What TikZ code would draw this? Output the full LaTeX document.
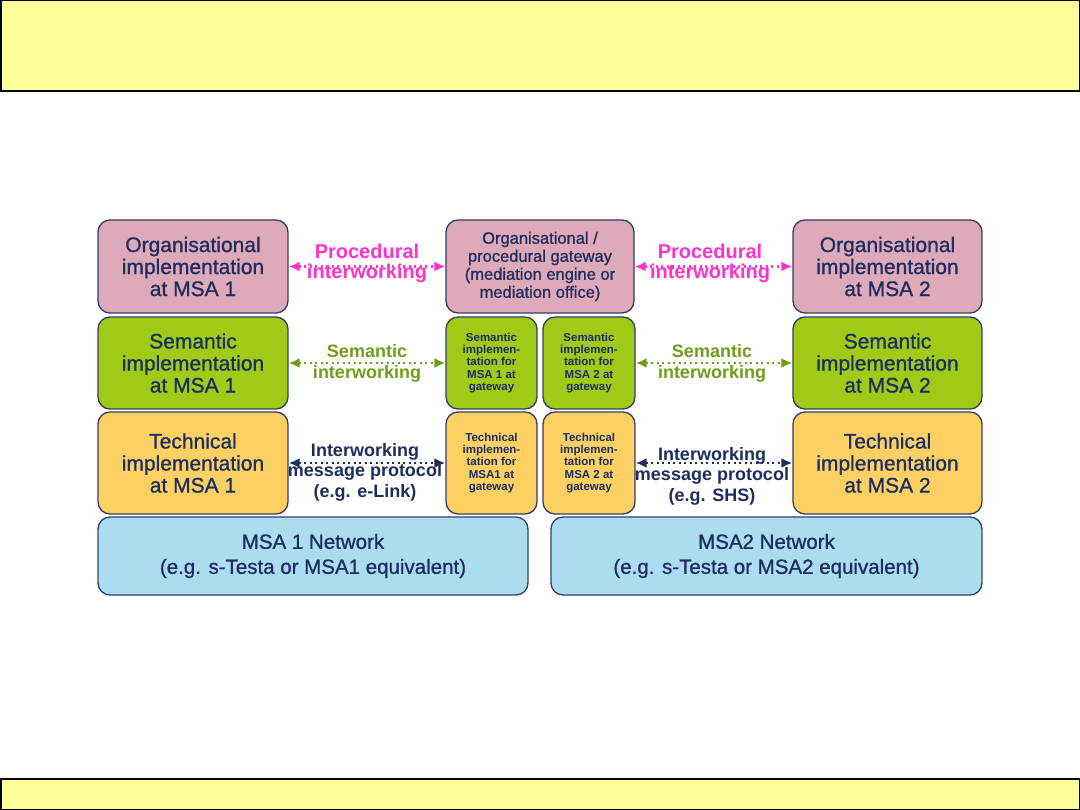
\documentclass[tikz,border=0pt]{standalone}
\usepackage{fontspec}
\setmainfont{Liberation Sans}
\newfontfamily\heavyfont[FakeBold=0.9]{Liberation Sans}
\usetikzlibrary{arrows.meta}
\definecolor{barfill}{RGB}{255,255,153}
\definecolor{pinkfill}{RGB}{222,169,185}
\definecolor{greenfill}{RGB}{159,202,22}
\definecolor{orangefill}{RGB}{253,208,99}
\definecolor{bluefill}{RGB}{171,220,240}
\definecolor{navy}{RGB}{30,45,95}
\definecolor{edge}{RGB}{50,62,105}
\definecolor{magentalbl}{RGB}{255,51,204}
\definecolor{greenlbl}{RGB}{108,158,28}
\tikzset{
  layerbox/.style={draw=edge, line width=1.3pt, rounded corners=12pt, inner sep=0pt,
    text=navy, align=center, font=\heavyfont\fontsize{21}{22}\selectfont},
  orgbox/.style={layerbox, fill=pinkfill},
  sembox/.style={layerbox, fill=greenfill},
  techbox/.style={layerbox, fill=orangefill},
  netbox/.style={layerbox, fill=bluefill, font=\heavyfont\fontsize{20.5}{25}\selectfont},
  gwsmall/.style={font=\bfseries\fontsize{11.5}{12.4}\selectfont},
  link/.style={line width=2.4pt, dash pattern=on 2.2pt off 3.3pt,
    {Latex[length=11pt,width=10pt]}-{Latex[length=11pt,width=10pt]}},
  lbl/.style={align=center, inner sep=0pt, font=\bfseries\fontsize{18}{20.5}\selectfont},
  bar/.style={draw=black, line width=1.5pt, fill=barfill}
}
\begin{document}
\begin{tikzpicture}[x=1pt,y=-1pt]
\useasboundingbox (0,0) rectangle (1080,810);
% header and footer bars
\path[bar] (0.75,0.75) rectangle (1079.25,91);
\path[bar] (0.75,779) rectangle (1079.25,809.25);

% left column (MSA 1)
\node[orgbox, minimum width=190pt, minimum height=93pt] (o1) at (193,266.5)
  {Organisational\\implementation\\at MSA 1};
\node[sembox, minimum width=190pt, minimum height=92pt] (s1) at (193,363)
  {Semantic\\implementation\\at MSA 1};
\node[techbox, minimum width=190pt, minimum height=102pt] (t1) at (193,463)
  {Technical\\implementation\\at MSA 1};

% gateway column
\node[orgbox, minimum width=188pt, minimum height=93pt, font=\heavyfont\fontsize{16.5}{18}\selectfont] (og) at (540,266.5)
  {Organisational /\\procedural gateway\\(mediation engine or\\mediation office)};
\node[sembox, gwsmall, minimum width=91pt, minimum height=92pt] (sg1) at (491.5,363)
  {Semantic\\implemen-\\tation for\\MSA 1 at\\gateway};
\node[sembox, gwsmall, minimum width=92pt, minimum height=92pt] (sg2) at (589,363)
  {Semantic\\implemen-\\tation for\\MSA 2 at\\gateway};
\node[techbox, gwsmall, minimum width=91pt, minimum height=102pt] (tg1) at (491.5,463)
  {Technical\\implemen-\\tation for\\MSA1 at\\gateway};
\node[techbox, gwsmall, minimum width=92pt, minimum height=102pt] (tg2) at (589,463)
  {Technical\\implemen-\\tation for\\MSA 2 at\\gateway};

% right column (MSA 2)
\node[orgbox, minimum width=189pt, minimum height=93pt] (o2) at (887.5,266.5)
  {Organisational\\implementation\\at MSA 2};
\node[sembox, minimum width=189pt, minimum height=92pt] (s2) at (887.5,363)
  {Semantic\\implementation\\at MSA 2};
\node[techbox, minimum width=189pt, minimum height=102pt] (t2) at (887.5,463)
  {Technical\\implementation\\at MSA 2};

% networks
\node[netbox, minimum width=430pt, minimum height=78pt] (n1) at (313,556)
  {MSA 1 Network\\(e.g. s-Testa or MSA1 equivalent)};
\node[netbox, minimum width=431pt, minimum height=78pt] (n2) at (766.5,556)
  {MSA2 Network\\(e.g. s-Testa or MSA2 equivalent)};

% connectors
\draw[link, magentalbl] (o1.east) -- (og.west);
\draw[link, magentalbl] (og.east) -- (o2.west);
\draw[link, greenlbl] (s1.east) -- (sg1.west);
\draw[link, greenlbl] (sg2.east) -- (s2.west);
\draw[link, navy] (t1.east) -- (tg1.west);
\draw[link, navy] (tg2.east) -- (t2.west);

% connector labels
\node[lbl, text=magentalbl, font=\bfseries\fontsize{20}{20}\selectfont] (pl1) at (367,263)
  {Procedural\\interworking};
\node[lbl, text=magentalbl, font=\bfseries\fontsize{20}{20}\selectfont] (pl2) at (710,263)
  {Procedural\\interworking};
\node[lbl, text=greenlbl] (sl1) at (367,363.5) {Semantic\\interworking};
\node[lbl, text=greenlbl] (sl2) at (712,363.5) {Semantic\\interworking};
\node[lbl, text=navy] (tl1) at (365,472) {Interworking\\message protocol\\(e.g. e-Link)};
\node[lbl, text=navy] (tl2) at (712,476) {Interworking\\message protocol\\(e.g. SHS)};
\end{tikzpicture}
\end{document}
